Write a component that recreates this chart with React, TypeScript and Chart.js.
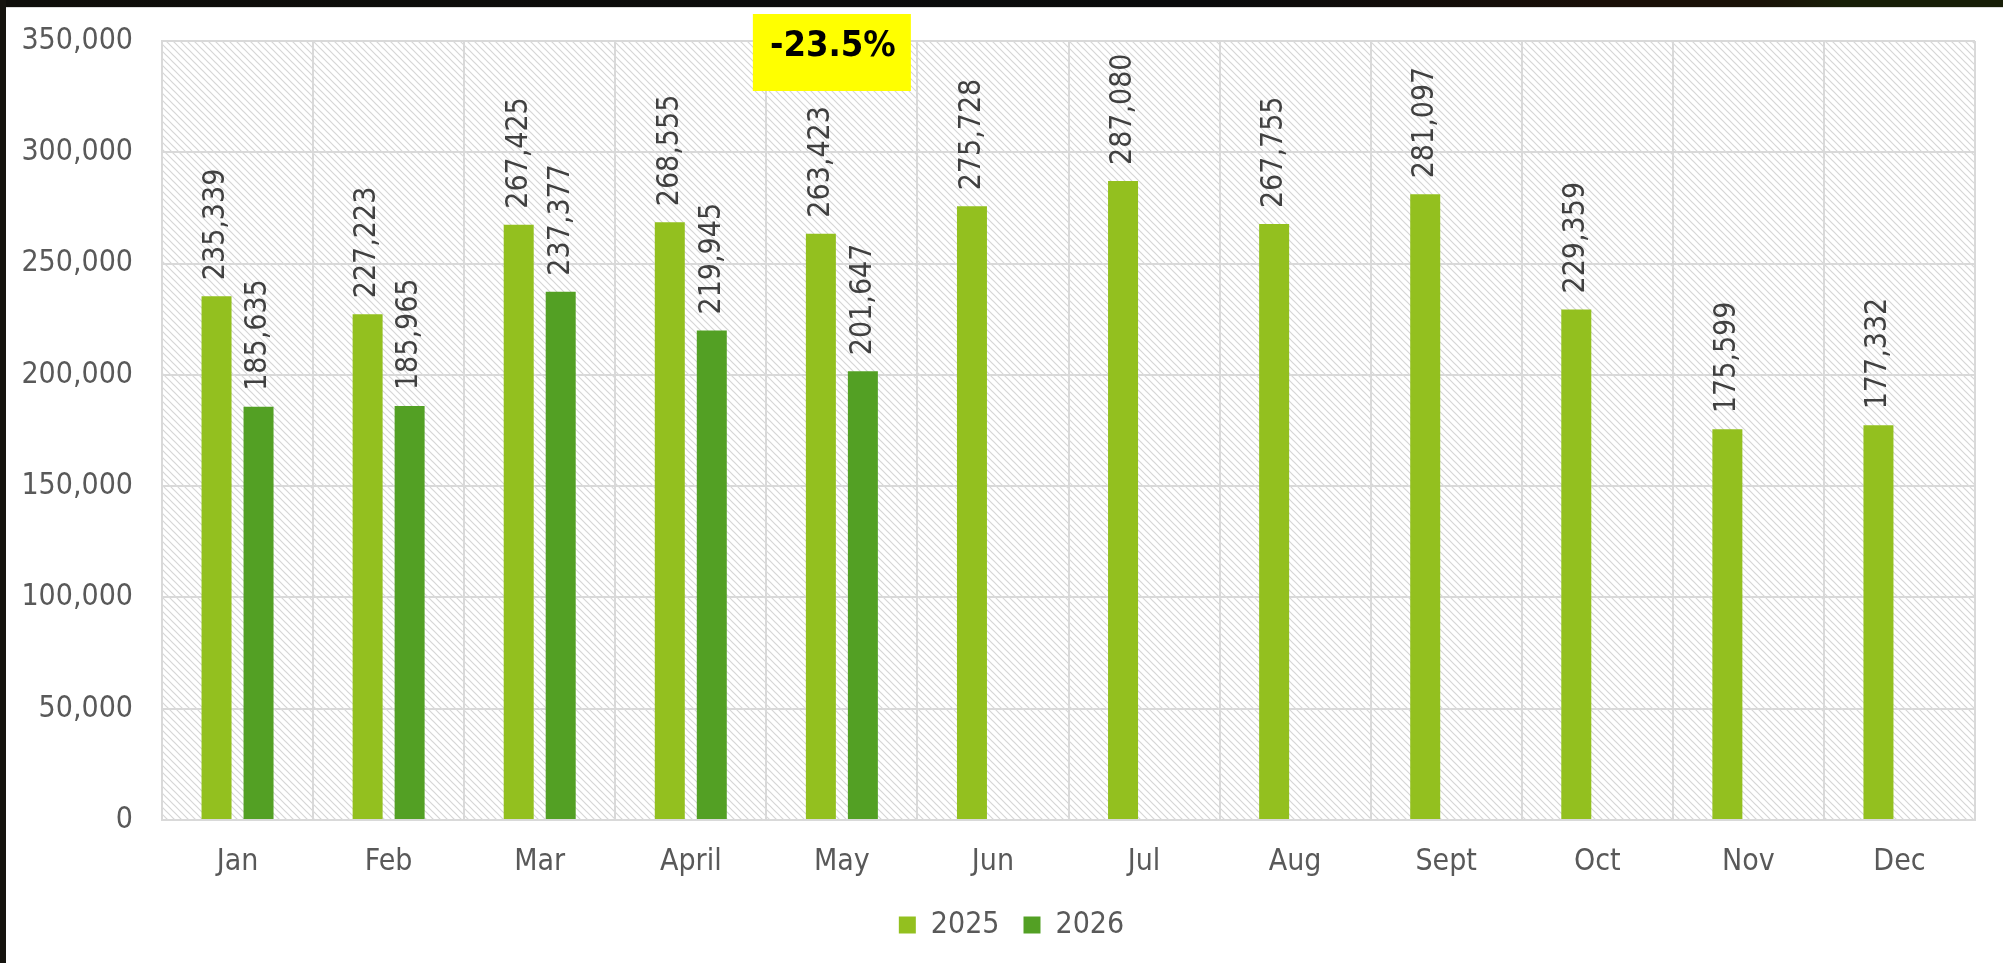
import React, { useEffect, useRef } from "react";
import { Chart, registerables } from "chart.js";
Chart.register(...registerables);

const months = ["Jan", "Feb", "Mar", "April", "May", "Jun", "Jul", "Aug", "Sept", "Oct", "Nov", "Dec"];
const values2025 = [235339, 227223, 267425, 268555, 263423, 275728, 287080, 267755, 281097, 229359, 175599, 177332];
const values2026 = [185635, 185965, 237377, 219945, 201647, null, null, null, null, null, null, null];
const seriesNames = ["2025", "2026"];
const yMin = 0;
const yMax = 350000;
const yStep = 50000;
const changeLabel = "-23.5%";
const changeIndex = 4;

const FONT = "'DejaVu Sans Condensed', 'DejaVu Sans', sans-serif";
const fmt = (v: number) => v.toLocaleString("en-US");

export default function App() {
  const ref = useRef<HTMLCanvasElement>(null);
  useEffect(() => {
    const canvas = ref.current!;
    const tile = document.createElement("canvas");
    tile.width = 7;
    tile.height = 7;
    const tctx = tile.getContext("2d")!;
    tctx.fillStyle = "#ffffff";
    tctx.fillRect(0, 0, 7, 7);
    tctx.strokeStyle = "#d6d6d6";
    tctx.lineWidth = 1.2;
    tctx.beginPath();
    tctx.moveTo(-1, -1);
    tctx.lineTo(8, 8);
    tctx.moveTo(-1, 6);
    tctx.lineTo(1, 8);
    tctx.moveTo(6, -1);
    tctx.lineTo(8, 1);
    tctx.stroke();

    const hatchPlugin = {
      id: "hatch",
      beforeDraw(chart: any) {
        const { ctx, chartArea: a } = chart;
        const pattern = ctx.createPattern(tile, "repeat");
        ctx.save();
        ctx.fillStyle = pattern;
        ctx.fillRect(a.left, a.top, a.right - a.left, a.bottom - a.top);
        ctx.restore();
      },
    };

    const labelPlugin = {
      id: "valueLabels",
      afterDatasetsDraw(chart: any) {
        const ctx = chart.ctx;
        chart.data.datasets.forEach((ds: any, i: number) => {
          const meta = chart.getDatasetMeta(i);
          meta.data.forEach((bar: any, j: number) => {
            const v = ds.data[j];
            if (v == null) return;
            ctx.save();
            ctx.translate(bar.x, bar.y - 16);
            ctx.rotate(-Math.PI / 2);
            ctx.font = `30px ${FONT}`;
            ctx.fillStyle = "#404040";
            ctx.textAlign = "left";
            ctx.textBaseline = "middle";
            ctx.fillText(fmt(v), 0, 0);
            ctx.restore();
          });
        });
      },
    };

    const boxPlugin = {
      id: "changeBox",
      afterDraw(chart: any) {
        const { ctx, chartArea: a } = chart;
        const cx = chart.scales.x.getPixelForValue(changeIndex) - 10;
        const w = 158;
        const h = 77;
        const top = a.top - 27;
        ctx.save();
        ctx.fillStyle = "#ffff00";
        ctx.fillRect(cx - w / 2, top, w, h);
        ctx.fillStyle = "#000000";
        ctx.font = `bold 36px ${FONT}`;
        ctx.textAlign = "center";
        ctx.textBaseline = "middle";
        ctx.fillText(changeLabel, cx + 1, top + 33);
        ctx.restore();
      },
    };

    const chart = new Chart(canvas, {
      type: "bar",
      data: {
        labels: months,
        datasets: [
          { label: seriesNames[0], data: values2025, backgroundColor: "#93c01f", borderWidth: 0 },
          { label: seriesNames[1], data: values2026 as any, backgroundColor: "#53a024", borderWidth: 0 },
        ],
      },
      options: {
        responsive: false,
        animation: false,
        devicePixelRatio: 1,
        datasets: { bar: { categoryPercentage: 0.556, barPercentage: 0.714 } },
        layout: { padding: { left: 42, top: 34, right: 28, bottom: 13 } },
        plugins: {
          legend: {
            position: "bottom",
            labels: {
              boxWidth: 17,
              boxHeight: 17,
              padding: 24,
              color: "#595959",
              font: { family: FONT, size: 30 },
            },
          },
          tooltip: { enabled: false },
        },
        scales: {
          x: {
            afterFit(scale: any) {
              scale.height = 66;
            },
            grid: { color: "#d9d9d9", lineWidth: 2, drawTicks: false, offset: true },
            border: { color: "#d9d9d9", width: 2 },
            ticks: { color: "#595959", font: { family: FONT, size: 30 }, padding: 24 },
          },
          y: {
            min: yMin,
            max: yMax,
            afterFit(scale: any) {
              scale.width = 114;
              // let the tick labels extend into the left layout padding
              scale._computeLabelArea = () => undefined;
            },
            grid: { color: "#d9d9d9", lineWidth: 2, drawTicks: true, tickLength: 29, tickColor: "rgba(0,0,0,0)" },
            border: { color: "#d9d9d9", width: 2 },
            ticks: {
              stepSize: yStep,
              color: "#595959",
              font: { family: FONT, size: 30 },
              padding: 0,
              callback: (v: any) => fmt(Number(v)),
            },
          },
        },
      },
      plugins: [hatchPlugin, labelPlugin, boxPlugin],
    });
    return () => chart.destroy();
  }, []);

  return (
    <div style={{ position: "fixed", left: 0, top: 0, width: 2003, height: 963, background: "#ffffff", overflow: "hidden" }}>
      <div
        style={{
          position: "absolute",
          left: 0,
          top: 0,
          width: 2003,
          height: 7,
          background: "linear-gradient(to right, #0f0e0a 0%, #0a0b0c 60%, #1a0f08 80%, #1a1208 88%, #181f08 92%, #181f08 100%)",
        }}
      />
      <div style={{ position: "absolute", left: 0, top: 7, width: 2003, height: 1, background: "#dcdcdc" }} />
      <div style={{ position: "absolute", left: 0, top: 0, width: 6, height: 963, background: "#15130e" }} />
      <div style={{ position: "absolute", left: 6, top: 7, width: 1997, height: 956 }}>
        <canvas ref={ref} width={1997} height={956} style={{ display: "block", width: 1997, height: 956 }} />
      </div>
    </div>
  );
}
